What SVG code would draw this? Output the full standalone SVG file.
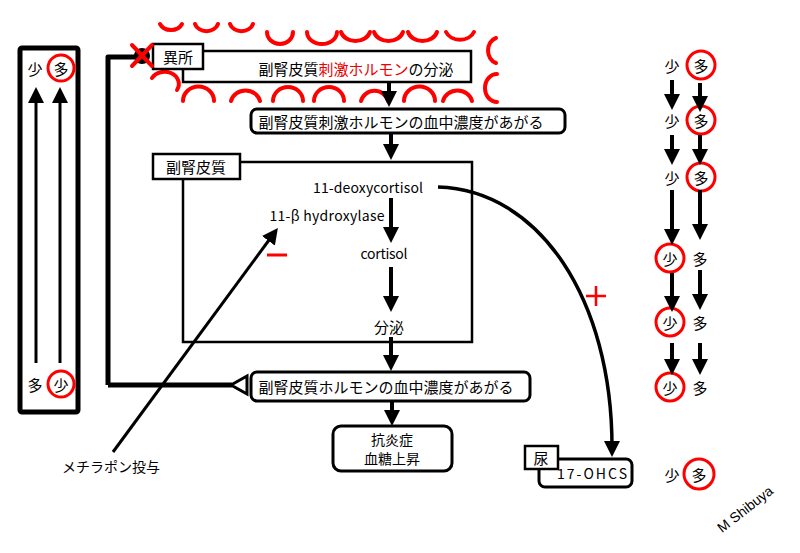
<svg xmlns="http://www.w3.org/2000/svg" width="800" height="553" viewBox="0 0 800 553">
<style>
text{font-family:"Noto Sans CJK JP","Noto Sans",sans-serif;font-size:15px;fill:#000;text-anchor:middle;dominant-baseline:central}
.lat{font-size:14px}
.red{fill:#e00}
.box{fill:#fff;stroke:#000;stroke-width:2.5}
.rbox{fill:#fff;stroke:#000;stroke-width:3}
.arc{fill:none;stroke:#f00;stroke-width:4;stroke-linecap:round}
.circ{fill:none;stroke:#f00;stroke-width:3}
.ar{fill:none;stroke:#000;stroke-width:4;marker-end:url(#ah)}
.thin{fill:none;stroke:#000;stroke-width:3;marker-end:url(#ah)}
.fb{fill:none;stroke:#000;stroke-width:5;stroke-linejoin:round}
</style>
<defs>
<marker id="ah" viewBox="0 0 16 16" refX="6" refY="8" markerWidth="16" markerHeight="16" markerUnits="userSpaceOnUse" orient="auto">
<path d="M0,0 L16,8 L0,16 z" fill="#000"/>
</marker>
</defs>
<rect width="800" height="553" fill="#fff"/>

<!-- red arcs (ectopic source) -->
<g id="ectopic-arcs">
<path class="arc" d="M160,24 A12,10 0 0 0 182,24"/>
<path class="arc" d="M195,24 A12,10 0 0 0 218,24"/>
<path class="arc" d="M230,24 A12,10 0 0 0 253,24"/>
<path class="arc" d="M267,32 A13,12 0 0 0 293,32"/>
<path class="arc" d="M307,32 A15,12 0 0 0 337,32"/>
<path class="arc" d="M341,32 A15,12 0 0 0 370,32"/>
<path class="arc" d="M374,32 A15,12 0 0 0 403,32"/>
<path class="arc" d="M408,32 A15,12 0 0 0 437,32"/>
<path class="arc" d="M446,32 A15,12 0 0 0 474,32"/>
<path class="arc" d="M496,38 A11,13 0 0 0 496,63"/>
<path class="arc" d="M497,74 A12,14 0 0 0 497,102"/>
<path class="arc" d="M152,78 A14,12 0 0 1 177,90"/>
<path class="arc" d="M183,101 A15,14 0 0 1 214,101"/>
<path class="arc" d="M231,101 A15,14 0 0 1 260,101"/>
<path class="arc" d="M273,101 A15,14 0 0 1 303,101"/>
<path class="arc" d="M314,101 A15,14 0 0 1 344,101"/>
<path class="arc" d="M361,101 A14,14 0 0 1 388,101"/>
<path class="arc" d="M404,101 A15,14 0 0 1 435,101"/>
<path class="arc" d="M443,101 A15,14 0 0 1 472,101"/>
</g>

<!-- left legend box -->
<g id="legend-left">
<rect x="20" y="48" width="58" height="364" fill="#fff" stroke="#000" stroke-width="5" rx="2"/>
<path class="thin" d="M36,363 L36,97"/>
<path class="thin" d="M60,363 L60,97"/>
<text x="35" y="68">少</text>
<text x="61" y="68">多</text>
<circle class="circ" cx="61" cy="68" r="13"/>
<text x="35" y="384">多</text>
<text x="61" y="384">少</text>
<circle class="circ" cx="61" cy="384" r="13"/>
</g>

<!-- top secretion box -->
<g id="acth-secretion">
<rect class="box" x="183" y="51" width="288" height="31"/>
<text x="356" y="68">副腎皮質<tspan class="red">刺激ホルモン</tspan>の分泌</text>
</g>
<g id="ectopic">
<rect class="box" x="153" y="44" width="50" height="25"/>
<text x="178" y="56">異所</text>
</g>

<g id="acth-blood">
<rect class="rbox" x="251" y="109" width="314" height="24" rx="6"/>
<text x="401" y="121">副腎皮質刺激ホルモンの血中濃度があがる</text>
</g>

<g id="adrenal-cortex">
<rect class="box" x="183" y="162" width="289" height="180"/>
<rect class="box" x="153" y="154" width="87" height="25"/>
<text x="196" y="166">副腎皮質</text>
<text class="lat" x="368" y="187" textLength="110">11-deoxycortisol</text>
<text class="lat" x="327" y="215" textLength="115">11-β hydroxylase</text>
<text class="lat" x="384" y="253" textLength="47">cortisol</text>
<text x="389" y="326">分泌</text>
<path d="M267,255 L287,255" stroke="#f00" stroke-width="3"/>
</g>

<g id="cortisol-blood">
<rect class="rbox" x="251" y="372" width="279" height="29" rx="6"/>
<text x="386" y="386">副腎皮質ホルモンの血中濃度があがる</text>
</g>

<g id="effects">
<rect class="rbox" x="333" y="426" width="119" height="45" rx="8"/>
<text x="392" y="439" style="font-size:14px">抗炎症</text>
<text x="392" y="458" style="font-size:14px">血糖上昇</text>
</g>

<g id="metyrapone">
<text x="111" y="466" style="font-size:14px">メチラポン投与</text>
</g>

<g id="plus">
<path d="M586,296 L606,296 M596,286 L596,306" stroke="#f00" stroke-width="2.5"/>
</g>

<g id="urine">
<rect class="rbox" x="539" y="459" width="93" height="28" rx="6"/>
<text class="lat" x="592" y="473" textLength="70">17-OHCS</text>
<rect class="box" x="525" y="446" width="33" height="23"/>
<text x="541" y="457">尿</text>
</g>

<!-- connectors -->
<g id="connectors">
<path class="fb" d="M108,385 L108,57 L140,57"/>
<path class="fb" d="M108,385 L232,385"/>
<path class="ar" d="M389,82 L389,97"/>
<path class="ar" d="M391,133 L391,150"/>
<path class="ar" d="M391,198 L391,233"/>
<path class="ar" d="M391,267 L391,302"/>
<path class="ar" d="M391,337 L391,361"/>
<path class="ar" d="M392,401 L392,416"/>
<path class="thin" d="M113,452 L272,236"/>
<path d="M438,187 C540,190 612,300 612,447" fill="none" stroke="#000" stroke-width="3.5" marker-end="url(#ah)"/>
<polygon points="231,385 247,376 247,394" fill="#fff" stroke="#000" stroke-width="3"/>
<circle cx="142" cy="56" r="8" fill="#000"/>
<path d="M132,45 L152,66 M152,45 L132,66" stroke="#f00" stroke-width="4" stroke-linecap="round"/>
</g>

<!-- right legend column -->
<g id="legend-right">
<text x="672" y="65">少</text><text x="701" y="65">多</text><circle class="circ" cx="701" cy="65" r="14"/>
<text x="672" y="120">少</text><text x="701" y="120">多</text><circle class="circ" cx="701" cy="120" r="14"/>
<text x="672" y="177">少</text><text x="701" y="177">多</text><circle class="circ" cx="701" cy="177" r="14"/>
<text x="670" y="258">少</text><circle class="circ" cx="670" cy="258" r="14"/><text x="700" y="258">多</text>
<text x="670" y="322">少</text><circle class="circ" cx="670" cy="322" r="14"/><text x="700" y="322">多</text>
<text x="670" y="387">少</text><circle class="circ" cx="670" cy="387" r="14"/><text x="700" y="387">多</text>
<path class="ar" d="M672,80 L672,100"/>
<path class="ar" d="M672,135 L672,155"/>
<path class="ar" d="M672,190 L672,235"/>
<path class="ar" d="M672,273 L672,302"/>
<path class="ar" d="M672,343 L672,365"/>
<path class="ar" d="M700,83 L700,102"/>
<path class="ar" d="M700,135 L700,155"/>
<path class="ar" d="M700,190 L700,230"/>
<path class="ar" d="M700,270 L700,300"/>
<path class="ar" d="M700,343 L700,365"/>
</g>

<g id="legend-bottom">
<text x="672" y="474">少</text>
<text x="699" y="474">多</text>
<circle class="circ" cx="699" cy="474" r="15"/>
</g>

<text x="745" y="509" transform="rotate(-38 745 509)" style="font-family:'Liberation Sans',Arial,sans-serif;font-size:14px">M Shibuya</text>
</svg>
